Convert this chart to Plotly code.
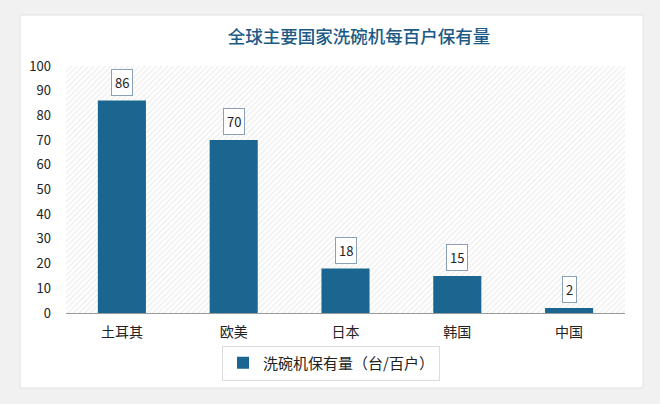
import plotly.graph_objects as go

categories = ["土耳其", "欧美", "日本", "韩国", "中国"]
values = [86, 70, 18, 15, 2]
series_name = "洗碗机保有量（台/百户）"
title_text = "全球主要国家洗碗机每百户保有量"
y_ticks = [0, 10, 20, 30, 40, 50, 60, 70, 80, 90, 100]

W, H = 660, 404
L, R, T, B = 66, 35, 66, 91
pw, ph = W - L - R, H - T - B

def px_x(p):
    return (p - L) / pw

def px_y(p):
    return (H - B - p) / ph

font_cjk = "Noto Sans CJK SC, Noto Sans, sans-serif"
bar_color = "#1b6690"

fig = go.Figure()

# hatched plot background (decorative, spans the whole category range)
fig.add_trace(go.Bar(
    x=[categories[len(categories) // 2]], y=[y_ticks[-1]], width=[len(categories)],
    marker=dict(color="white", line=dict(width=0),
                pattern=dict(shape="/", fgcolor="#dadada", bgcolor="#ffffff", size=4, solidity=0.3)),
    showlegend=False, hoverinfo="skip",
))

fig.add_trace(go.Bar(
    x=categories, y=values, name=series_name,
    marker=dict(color=bar_color, line=dict(width=0)),
    width=0.43,
))

for c, v in zip(categories, values):
    fig.add_annotation(
        x=c, y=v, text=str(v), showarrow=False, yanchor="bottom", yshift=5,
        font=dict(family=font_cjk, size=13, color="#222222"),
        bgcolor="white", bordercolor="#8aa0b8", borderwidth=1, borderpad=3,
    )

# white card
fig.add_shape(type="rect", xref="paper", yref="paper",
              x0=px_x(20), x1=px_x(643), y0=px_y(388), y1=px_y(15),
              fillcolor="white", line=dict(color="#e2e2e2", width=1), layer="below")

fig.update_layout(
    width=W, height=H,
    margin=dict(l=L, r=R, t=T, b=B, autoexpand=False),
    paper_bgcolor="#f1f1f1",
    plot_bgcolor="rgba(0,0,0,0)",
    title=dict(text=title_text, xref="paper", x=px_x(359), xanchor="center",
               yref="container", y=1 - 37 / H, yanchor="middle",
               font=dict(family=font_cjk, size=17.5, color="#1a5a85", weight=500)),
    barmode="overlay",
    xaxis=dict(showgrid=False, showline=True, linecolor="#9a9a9a", linewidth=1,
               categoryorder="array", categoryarray=categories,
               range=[-0.5, len(categories) - 0.5],
               tickfont=dict(family=font_cjk, size=14, color="#222222"), ticks="",
               ticklabelstandoff=6, layer="above traces"),
    yaxis=dict(range=[0, 100], tickvals=y_ticks, showgrid=False, zeroline=False,
               tickfont=dict(family=font_cjk, size=13, color="#222222"), ticks="",
               ticklabelstandoff=14),
    showlegend=True,
    legend=dict(orientation="h", x=px_x(331), xanchor="center", y=px_y(363), yanchor="middle",
                bordercolor="#dcdcdc", borderwidth=1, bgcolor="white",
                font=dict(family=font_cjk, size=15, color="#222222"),
                itemsizing="constant"),
)

fig.write_html("out.html", config={"displayModeBar": False},
               post_script="document.body.style.margin='0';document.body.style.background='#f1f1f1';")
